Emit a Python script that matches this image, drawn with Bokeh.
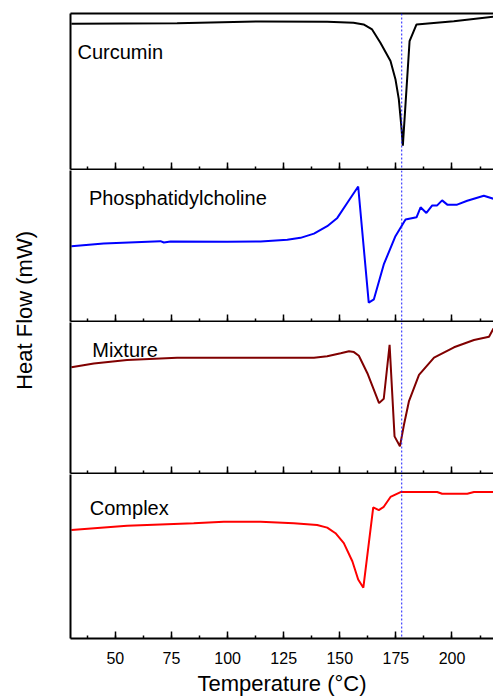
import math
from bokeh.plotting import figure
from bokeh.layouts import row, column
from bokeh.models import Range1d, LinearAxis, SingleIntervalTicker, Span, Label
from bokeh.embed import file_html
from bokeh.resources import INLINE

# ---------------- data ----------------
x_ticks = [50, 75, 100, 125, 150, 175, 200]
marker_temp = 177.6

curcumin_t = [30.4, 77.5, 114.7, 144.4, 156.1, 160.6, 164.4, 168.1, 172.6, 174.8, 176.3, 177.4, 178.1,
              181.1, 184.2, 200.8, 218.5]
curcumin_v = [93.4, 93.8, 94.9, 94.7, 94.1, 93.0, 89.8, 81.3, 69.6, 57.9, 45.1, 28.1, 15.3,
              82.3, 93.0, 95.1, 97.9]

pc_t = [30.4, 44.8, 70.1, 71.6, 74.6, 99.8, 114.7, 126.6, 132.5, 138.5, 144.4, 148.9, 153.3, 158.2,
        162.9, 165.2, 169.6, 174.8, 179.3, 184.2, 186.0, 188.6, 191.2, 193.4, 195.6, 197.9, 202.3,
        206.8, 214.2, 218.5]
pc_v = [49.9, 51.6, 53.2, 52.3, 53.0, 52.8, 53.0, 54.1, 55.4, 58.2, 63.1, 68.6, 78.5, 89.4,
        12.5, 14.7, 37.8, 56.5, 67.5, 69.0, 75.6, 71.9, 76.9, 76.9, 80.2, 77.4, 77.4,
        80.0, 83.3, 81.3]

mixture_t = [30.4, 40.4, 55.2, 77.5, 99.8, 138.5, 144.4, 150.4, 154.1, 156.3, 158.5, 162.3, 167.5,
             169.6, 172.2, 174.4, 176.8, 178.6, 180.8, 185.3, 192.0, 200.9, 209.8, 216.5, 218.5]
mixture_v = [70.3, 72.9, 75.1, 76.7, 76.7, 76.7, 77.6, 79.6, 80.9, 80.4, 78.0, 66.4, 46.6,
             49.5, 85.2, 24.6, 18.0, 32.3, 47.7, 65.3, 76.7, 83.6, 88.4, 90.6, 96.1]

complex_t = [30.4, 55.2, 84.9, 98.3, 114.7, 129.5, 139.9, 144.4, 148.1, 151.8, 155.6, 158.2, 160.5,
             164.9, 167.4, 169.6, 172.6, 177.1, 193.4, 195.6, 206.8, 209.8, 218.5]
complex_v = [66.2, 68.8, 70.2, 71.2, 71.2, 70.2, 69.2, 67.6, 64.2, 58.2, 47.1, 36.0, 31.0,
             79.9, 78.3, 80.3, 86.3, 89.3, 89.3, 88.3, 88.3, 89.3, 89.3]

panel_names = ["Curcumin", "Phosphatidylcholine", "Mixture", "Complex"]
panel_colors = ["#000000", "#0000ff", "#800000", "#ff0000"]
panel_label_pos = [(33.1, 75.3), (38.2, 82.0), (39.7, 81.5), (38.6, 79.3)]

series = [(curcumin_t, curcumin_v), (pc_t, pc_v), (mixture_t, mixture_v), (complex_t, complex_v)]

# ---------------- layout ----------------
FONT = "Liberation Sans"
x_range = Range1d(30, 218.5)
heights = [170, 152, 152, 224]
tops = [13, 0, 0, 0]
PW = 435
LW = 58


def style_axis(ax, labels=False):
    ax.axis_line_width = 2
    ax.axis_line_color = "black"
    ax.major_tick_line_color = "black"
    ax.minor_tick_line_color = "black"
    ax.major_tick_line_width = 1.5
    ax.minor_tick_line_width = 1.5
    ax.major_tick_out = 0
    ax.minor_tick_out = 0
    if not labels:
        ax.major_label_text_color = None
        ax.major_label_standoff = 0


panels = []
for i, ((t, v), name, col, (lx, ly)) in enumerate(zip(series, panel_names, panel_colors, panel_label_pos)):
    last = i == 3
    p = figure(width=PW, height=heights[i], x_range=x_range, y_range=Range1d(0, 100),
               output_backend="svg", toolbar_location=None,
               min_border_left=12, min_border_right=0,
               min_border_top=tops[i], min_border_bottom=1,
               background_fill_color="white", border_fill_color="white")
    p.outline_line_color = None
    p.xgrid.visible = False
    p.ygrid.visible = False

    xa = p.xaxis[0]
    xa.ticker = SingleIntervalTicker(interval=25, num_minor_ticks=2)
    style_axis(xa, labels=last)
    xa.major_tick_in = 7
    xa.minor_tick_in = 3
    if last:
        xa.major_label_text_font = FONT
        xa.major_label_text_font_size = "16px"
        xa.major_label_text_color = "black"
        xa.major_label_standoff = 13
        xa.axis_label = "Temperature (°C)"
        xa.axis_label_text_font = FONT
        xa.axis_label_text_font_size = "22px"
        xa.axis_label_text_font_style = "normal"
        xa.axis_label_text_color = "black"
        xa.axis_label_standoff = 4

    ya = p.yaxis[0]
    style_axis(ya)
    ya.major_tick_in = 0
    ya.minor_tick_in = 0

    if i == 0:
        top = LinearAxis(ticker=SingleIntervalTicker(interval=25, num_minor_ticks=2))
        style_axis(top)
        top.major_tick_in = 0
        top.minor_tick_in = 0
        p.add_layout(top, "above")

    p.line(t, v, line_color=col, line_width=2)
    p.add_layout(Span(location=marker_temp, dimension="height", line_color="#1a1aff",
                      line_dash="2 2", line_width=1))
    p.add_layout(Label(x=lx, y=ly, text=name, text_font=FONT, text_font_size="20px",
                       text_color="black", text_baseline="alphabetic", text_align="left"))
    panels.append(p)

total_h = sum(heights)
lab = figure(width=LW, height=total_h, x_range=Range1d(0, 1), y_range=Range1d(0, 1),
             output_backend="svg", toolbar_location=None,
             min_border=0, background_fill_color="white", border_fill_color="white")
lab.outline_line_color = None
lab.axis.visible = False
lab.xgrid.visible = False
lab.ygrid.visible = False
lab.add_layout(Label(x=0.414, y=0.556, text="Heat Flow (mW)", angle=math.pi / 2,
                     text_font=FONT, text_font_size="22px", text_color="black",
                     text_align="center", text_baseline="middle"))

layout = row(lab, column(*panels, spacing=0), spacing=0)

open("out.html", "w").write(file_html(layout, INLINE))
